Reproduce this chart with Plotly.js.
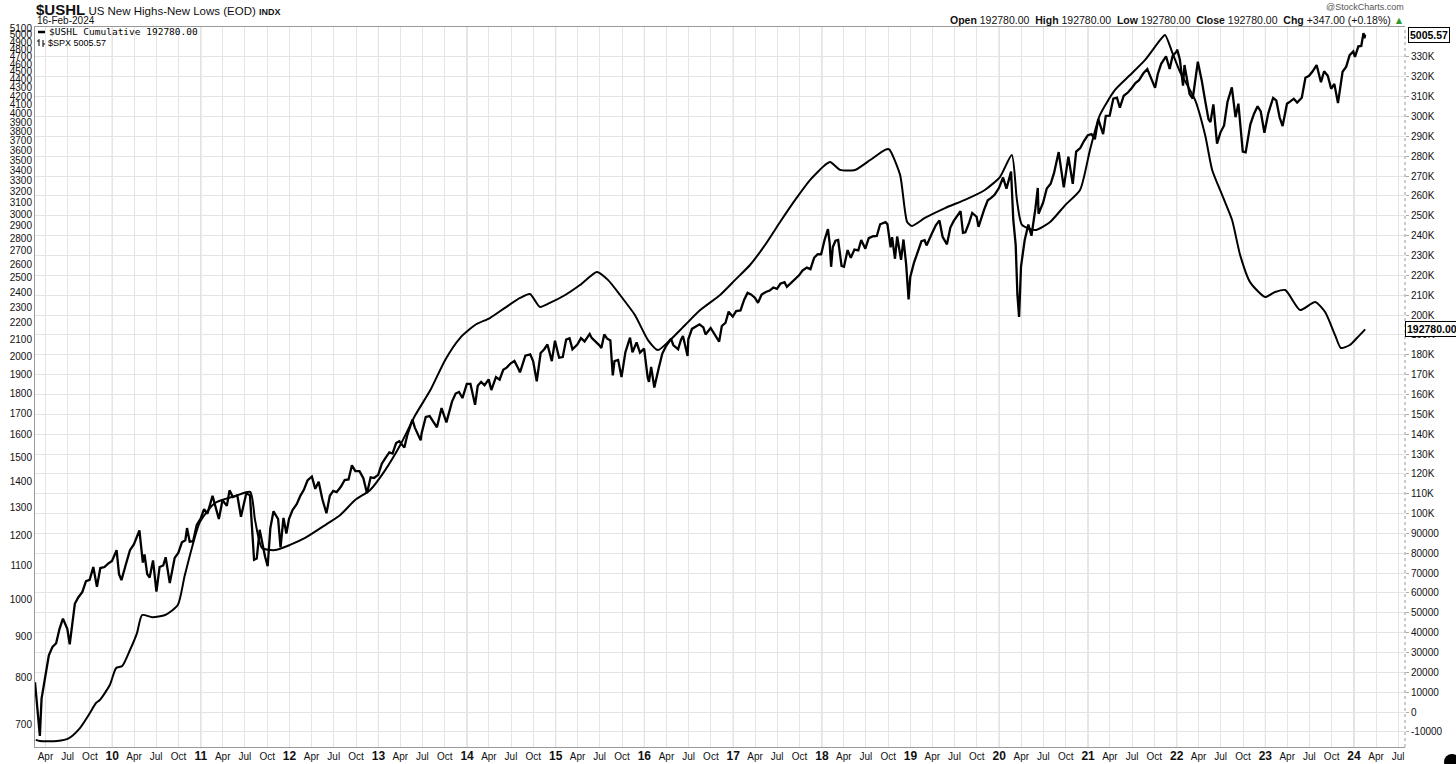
<!DOCTYPE html>
<html>
<head>
<meta charset="utf-8">
<script src="https://cdn.plot.ly/plotly-3.0.1.min.js"></script>
<style>html,body{margin:0;padding:0;background:#fff;}#chart{width:1456px;height:764px;}</style>
</head>
<body>
<div id="chart"></div>
<script>
// ---------- DATA ----------
const spxDates = ['2009-02-17','2009-02-27','2009-03-09','2009-03-16','2009-03-31','2009-04-15','2009-04-30','2009-05-15','2009-05-29','2009-06-12','2009-06-30','2009-07-10','2009-07-31','2009-08-14','2009-08-31','2009-09-15','2009-09-30','2009-10-15','2009-10-30','2009-11-13','2009-11-30','2009-12-15','2009-12-31',
'2010-01-19','2010-01-29','2010-02-08','2010-02-26','2010-03-15','2010-03-31','2010-04-23','2010-05-07','2010-05-14','2010-05-25','2010-06-04','2010-06-18','2010-07-02','2010-07-15','2010-07-30','2010-08-09','2010-08-26','2010-09-15','2010-09-30','2010-10-15','2010-10-29','2010-11-05','2010-11-16','2010-11-30','2010-12-15','2010-12-31',
'2011-01-14','2011-01-28','2011-02-18','2011-03-16','2011-03-31','2011-04-18','2011-04-29','2011-05-13','2011-05-31','2011-06-15','2011-06-30','2011-07-07','2011-07-22','2011-08-08','2011-08-19','2011-08-31','2011-09-22','2011-10-03','2011-10-14','2011-10-27','2011-11-15','2011-11-25','2011-12-07','2011-12-19','2011-12-30',
'2012-01-13','2012-01-31','2012-02-15','2012-02-29','2012-03-15','2012-04-02','2012-04-16','2012-04-30','2012-05-15','2012-06-01','2012-06-15','2012-06-29','2012-07-13','2012-07-31','2012-08-15','2012-08-31','2012-09-14','2012-09-28','2012-10-15','2012-10-31','2012-11-15','2012-11-30','2012-12-14','2012-12-31',
'2013-01-15','2013-01-31','2013-02-15','2013-02-28','2013-03-15','2013-03-28','2013-04-18','2013-04-30','2013-05-21','2013-05-31','2013-06-24','2013-06-28','2013-07-15','2013-07-31','2013-08-15','2013-08-30','2013-09-18','2013-09-30','2013-10-08','2013-10-31','2013-11-15','2013-11-29','2013-12-13','2013-12-31',
'2014-01-15','2014-02-03','2014-02-14','2014-02-28','2014-03-14','2014-03-31','2014-04-11','2014-04-30','2014-05-15','2014-05-30','2014-06-13','2014-06-30','2014-07-15','2014-07-31','2014-08-07','2014-08-29','2014-09-18','2014-09-30','2014-10-15','2014-10-31','2014-11-14','2014-11-28','2014-12-16','2014-12-29',
'2015-01-15','2015-01-30','2015-02-13','2015-02-27','2015-03-11','2015-03-31','2015-04-15','2015-04-30','2015-05-21','2015-05-29','2015-06-15','2015-06-30','2015-07-08','2015-07-20','2015-07-31','2015-08-14','2015-08-24','2015-08-31','2015-09-15','2015-09-29','2015-10-15','2015-11-03','2015-11-13','2015-11-30','2015-12-14','2015-12-31',
'2016-01-15','2016-01-20','2016-01-29','2016-02-11','2016-02-29','2016-03-15','2016-03-31','2016-04-20','2016-04-29','2016-05-19','2016-05-31','2016-06-08','2016-06-27','2016-06-30','2016-07-15','2016-07-29','2016-08-15','2016-08-31','2016-09-09','2016-09-30','2016-10-14','2016-11-04','2016-11-15','2016-11-30','2016-12-13','2016-12-30',
'2017-01-13','2017-01-31','2017-02-15','2017-03-01','2017-03-15','2017-03-31','2017-04-13','2017-04-28','2017-05-15','2017-05-31','2017-06-15','2017-06-30','2017-07-14','2017-07-31','2017-08-10','2017-08-31','2017-09-15','2017-09-29','2017-10-13','2017-10-31','2017-11-15','2017-11-30','2017-12-15','2017-12-29',
'2018-01-12','2018-01-26','2018-02-02','2018-02-08','2018-02-15','2018-02-26','2018-03-09','2018-03-23','2018-04-02','2018-04-17','2018-04-30','2018-05-15','2018-05-31','2018-06-12','2018-06-29','2018-07-13','2018-07-31','2018-08-15','2018-08-29','2018-09-20','2018-09-28','2018-10-11','2018-10-17','2018-10-29','2018-11-07','2018-11-23','2018-12-03','2018-12-14','2018-12-24','2018-12-31',
'2019-01-15','2019-01-31','2019-02-15','2019-02-28','2019-03-08','2019-03-29','2019-04-15','2019-04-30','2019-05-13','2019-05-31','2019-06-14','2019-06-28','2019-07-26','2019-08-05','2019-08-15','2019-08-30','2019-09-12','2019-09-30','2019-10-08','2019-10-31','2019-11-15','2019-11-29','2019-12-13','2019-12-31',
'2020-01-17','2020-01-31','2020-02-19','2020-02-28','2020-03-09','2020-03-16','2020-03-23','2020-03-31','2020-04-15','2020-04-30','2020-05-13','2020-05-29','2020-06-08','2020-06-11','2020-06-30','2020-07-15','2020-07-31','2020-08-14','2020-09-02','2020-09-23','2020-09-30','2020-10-12','2020-10-30','2020-11-13','2020-11-30','2020-12-15','2020-12-31',
'2021-01-15','2021-01-29','2021-02-12','2021-03-04','2021-03-15','2021-03-31','2021-04-15','2021-04-30','2021-05-12','2021-05-28','2021-06-15','2021-06-30','2021-07-15','2021-07-30','2021-08-16','2021-09-02','2021-09-30','2021-10-04','2021-10-15','2021-10-29','2021-11-18','2021-11-30','2021-12-03','2021-12-15','2021-12-31',
'2022-01-03','2022-01-14','2022-01-27','2022-02-02','2022-02-23','2022-03-08','2022-03-29','2022-04-14','2022-04-29','2022-05-12','2022-05-20','2022-06-01','2022-06-16','2022-06-30','2022-07-15','2022-07-29','2022-08-16','2022-08-31','2022-09-12','2022-09-30','2022-10-12','2022-10-31','2022-11-15','2022-11-30','2022-12-13','2022-12-28',
'2023-01-13','2023-02-02','2023-02-15','2023-03-01','2023-03-13','2023-03-31','2023-04-14','2023-04-28','2023-05-12','2023-05-31','2023-06-15','2023-06-30','2023-07-14','2023-07-31','2023-08-18','2023-08-31','2023-09-15','2023-09-29','2023-10-12','2023-10-27','2023-11-15','2023-11-30','2023-12-14','2023-12-29',
'2024-01-05','2024-01-19','2024-01-31','2024-02-09','2024-02-13','2024-02-16'];
const spxValues = [789,735,677,753,798,852,873,882,919,946,919,879,987,1005,1021,1053,1057,1096,1036,1093,1096,1107,1115,
1150,1074,1056,1104,1150,1169,1217,1110,1136,1074,1064,1117,1022,1096,1101,1127,1047,1125,1141,1176,1183,1225,1178,1180,1236,1258,
1293,1276,1343,1257,1326,1305,1364,1338,1345,1265,1321,1353,1345,1119,1123,1219,1130,1099,1225,1285,1257,1159,1261,1206,1258,
1289,1312,1344,1366,1403,1419,1370,1398,1331,1278,1343,1362,1357,1379,1405,1407,1465,1441,1441,1412,1353,1416,1413,1426,
1472,1498,1520,1515,1561,1569,1541,1597,1669,1631,1573,1606,1682,1686,1661,1633,1725,1682,1656,1757,1798,1806,1775,1848,
1848,1741,1838,1859,1841,1872,1816,1884,1870,1924,1936,1960,1973,1931,1910,2003,2011,1972,1862,2018,2039,2068,1972,2090,
1992,1995,2097,2105,2040,2068,2106,2086,2131,2107,2084,2063,2047,2128,2104,2092,1893,1972,1979,1884,2023,2109,2023,2080,2021,2044,
1880,1859,1940,1829,1932,2015,2060,2102,2065,2040,2097,2119,2001,2099,2162,2174,2190,2171,2128,2168,2133,2085,2180,2199,2271,2239,
2275,2279,2350,2396,2385,2363,2329,2384,2402,2412,2433,2423,2459,2470,2438,2472,2500,2519,2553,2575,2564,2648,2676,2674,
2786,2873,2762,2581,2731,2780,2786,2588,2582,2707,2648,2711,2705,2786,2718,2801,2816,2818,2914,2931,2914,2728,2809,2641,2814,2633,2790,2599,2351,2507,
2610,2704,2776,2784,2743,2834,2905,2946,2812,2752,2887,2942,3026,2844,2848,2926,3009,2977,2893,3038,3120,3141,3169,3231,
3330,3226,3386,2954,2747,2386,2237,2585,2784,2912,2820,3044,3232,3002,3100,3227,3271,3373,3580,3237,3363,3534,3270,3585,3622,3695,3756,
3768,3714,3934,3768,3969,3973,4170,4181,4063,4204,4246,4298,4360,4395,4479,4537,4308,4300,4471,4605,4705,4567,4538,4709,4766,
4797,4662,4326,4589,4225,4170,4632,4392,4132,3930,3901,4101,3667,3785,3863,4130,4305,3955,4110,3586,3577,3872,3992,4080,4020,3783,
3999,4179,4148,3951,3855,4109,4138,4169,4124,4180,4426,4450,4505,4589,4370,4508,4450,4288,4349,4117,4502,4568,4720,4770,
4697,4840,4846,5027,4953,5005.57];

const ushlDates = ['2009-02-20','2009-03-09','2009-05-19','2009-07-07','2009-08-21','2009-10-01','2009-10-26','2009-11-11','2009-12-22',
'2010-01-17','2010-02-11','2010-03-15','2010-04-13','2010-05-04','2010-06-15','2010-08-07','2010-09-28','2010-10-27','2010-12-28',
'2011-02-28','2011-05-22','2011-07-23','2011-08-12','2011-09-10','2011-11-02',
'2012-01-03','2012-03-05','2012-05-27','2012-07-28','2012-09-27','2012-11-28',
'2013-01-29','2013-04-01','2013-06-02','2013-08-03','2013-10-03','2013-12-03',
'2014-02-03','2014-04-05','2014-06-06','2014-08-07','2014-09-17','2014-10-28','2014-12-08',
'2015-02-09','2015-04-11','2015-06-20','2015-08-04','2015-09-23','2015-11-23',
'2016-01-16','2016-02-26','2016-04-16','2016-06-17','2016-08-18','2016-11-08',
'2017-01-09','2017-03-11','2017-05-12','2017-07-13','2017-09-13','2017-11-13',
'2018-01-14','2018-02-04','2018-03-17','2018-05-18','2018-07-19','2018-09-18','2018-10-05','2018-11-19','2018-12-18',
'2019-01-07','2019-03-01','2019-05-23','2019-08-13','2019-11-03',
'2020-01-04','2020-02-22','2020-03-14','2020-04-04','2020-05-28','2020-07-29','2020-09-29','2020-11-29',
'2021-01-09','2021-02-19','2021-04-22','2021-06-23','2021-08-24','2021-10-25','2021-11-14','2021-12-13',
'2022-01-15','2022-03-18','2022-04-28','2022-05-27','2022-07-07','2022-08-17','2022-09-19','2022-10-30','2022-12-31',
'2023-02-10','2023-03-24','2023-05-24','2023-07-25','2023-09-04','2023-10-15','2023-11-08','2023-12-15',
'2024-01-13','2024-02-16'];
const ushlValues = [-14000,-14600,-14600,-13100,-8050,-490,4550,6060,13600,
22200,23200,31250,39800,48900,47800,48900,53900,69000,95700,
105300,108800,110900,96700,82600,81600,
84200,87700,94200,99300,106800,111900,
121900,134500,149600,162200,177400,188400,
195000,198500,203600,208600,210600,204100,206100,
210100,215100,221700,217700,210100,200000,
187400,182400,187400,195000,202500,210100,
217700,225200,235300,246900,258000,268000,
275600,277100,273100,273100,278100,283200,283500,270600,246900,
244900,248900,253900,258000,263000,
269500,280600,258000,245400,242800,246900,255400,263000,
283200,300800,313400,320900,328500,338600,341100,332500,
322400,308300,290700,273100,260500,247900,230300,216600,209100,
211600,212600,202500,206600,201500,189900,183400,184900,
188400,192780];

const ushlChange = 347.00;
const ushlChangePct = 0.18;
const dateLabel = '16-Feb-2024';

const tickYears = [2009,2010,2011,2012,2013,2014,2015,2016,2017,2018,2019,2020,2021,2022,2023,2024];
const quarterMonths = ['01','04','07','10'];
const quarterNames = ['', 'Apr', 'Jul', 'Oct'];
const leftTicks = [700,800,900,1000,1100,1200,1300,1400,1500,1600,1700,1800,1900,2000,2100,2200,2300,2400,2500,2600,2700,2800,2900,3000,3100,3200,3300,3400,3500,3600,3700,3800,3900,4000,4100,4200,4300,4400,4500,4600,4700,4800,4900,5000,5100];
const rightTicks = [-10000,0,10000,20000,30000,40000,50000,60000,70000,80000,90000,100000,110000,120000,130000,140000,150000,160000,170000,180000,190000,200000,210000,220000,230000,240000,250000,260000,270000,280000,290000,300000,310000,320000,330000];

// ---------- BUILD ----------
const xTickVals = [], xTickText = [];
tickYears.forEach(y => {
  quarterMonths.forEach((m, i) => {
    const d = y + '-' + m + '-01';
    if (d < '2009-02-17' || d > '2024-07-29') return;
    xTickVals.push(d);
    xTickText.push(i === 0 ? '<span style="font-size:12px;font-weight:bold">' + String(y).slice(2) + '</span>' : quarterNames[i]);
  });
});
const rightText = rightTicks.map(v => Math.abs(v) >= 100000 ? (v / 1000) + 'K' : String(v));

const lastSpx = spxValues[spxValues.length - 1];
const lastUshl = ushlValues[ushlValues.length - 1];
const fmt2 = v => v.toFixed(2);

const PL = 35, PR = 1405, PT = 27, PB = 747;
const px = x => (x - PL) / (PR - PL);
const py = y => (PB - y) / (PB - PT);

const FONT = 'Liberation Sans, Arial, sans-serif';

const traces = [
  {x: spxDates, y: spxValues, type: 'scatter', mode: 'lines', yaxis: 'y',
   line: {color: '#000', width: 2.3}, name: '$SPX', hoverinfo: 'skip'},
  {x: ushlDates, y: ushlValues, type: 'scatter', mode: 'lines', yaxis: 'y2',
   line: {color: '#000', width: 2, shape: 'spline', smoothing: 0.6}, name: '$USHL Cumulative', hoverinfo: 'skip'}
];

const shapes = tickYears.filter(y => y >= 2010).map(y => ({
  type: 'line', xref: 'x', yref: 'paper', x0: y + '-01-01', x1: y + '-01-01', y0: 0, y1: 1,
  line: {color: '#c9c9c9', width: 1}, layer: 'below'
}));
// dotted right axis line
shapes.push({type: 'line', xref: 'paper', yref: 'paper', x0: 1, x1: 1, y0: 0, y1: 1, line: {color: '#999', width: 1, dash: 'dot'}});
// legend swatch for USHL line
shapes.push({type: 'line', xref: 'paper', yref: 'paper', x0: px(38), x1: px(45), y0: py(32), y1: py(32), line: {color: '#000', width: 2.5}});
// legend icon for SPX bars
shapes.push({type: 'line', xref: 'paper', yref: 'paper', x0: px(39), x1: px(39), y0: py(46), y1: py(39), line: {color: '#000', width: 1}});
shapes.push({type: 'line', xref: 'paper', yref: 'paper', x0: px(43), x1: px(43), y0: py(47), y1: py(40), line: {color: '#000', width: 1}});
shapes.push({type: 'line', xref: 'paper', yref: 'paper', x0: px(37), x1: px(39), y0: py(41), y1: py(41), line: {color: '#000', width: 1}});
shapes.push({type: 'line', xref: 'paper', yref: 'paper', x0: px(43), x1: px(45), y0: py(44), y1: py(44), line: {color: '#000', width: 1}});
// corner dot
shapes.push({type: 'circle', xref: 'paper', yref: 'paper', x0: px(1444), x1: px(1460), y0: py(754), y1: py(770), fillcolor: '#000', line: {width: 0}});

const annotations = [
  {xref: 'paper', yref: 'paper', x: px(34), y: py(9), xanchor: 'left', yanchor: 'middle', showarrow: false,
   text: '<span style="font-size:15px;font-weight:bold">$USHL</span> US New Highs-New Lows (EOD) <span style="font-size:9px;font-weight:bold">INDX</span>',
   font: {family: FONT, size: 11.5, color: '#111'}},
  {xref: 'paper', yref: 'paper', x: px(35), y: py(20), xanchor: 'left', yanchor: 'middle', showarrow: false,
   text: dateLabel, font: {family: FONT, size: 10, color: '#111'}},
  {xref: 'paper', yref: 'paper', x: px(1406), y: py(7), xanchor: 'right', yanchor: 'middle', showarrow: false,
   text: '@StockCharts.com', font: {family: FONT, size: 9, color: '#555'}},
  {xref: 'paper', yref: 'paper', x: px(1406), y: py(20), xanchor: 'right', yanchor: 'middle', showarrow: false,
   text: '<b>Open</b> ' + fmt2(lastUshl) + '  <b>High</b> ' + fmt2(lastUshl) + '  <b>Low</b> ' + fmt2(lastUshl) +
         '  <b>Close</b> ' + fmt2(lastUshl) + '  <b>Chg</b> +' + fmt2(ushlChange) + ' (+' + fmt2(ushlChangePct) + '%) <span style="color:#2e9b2e">▲</span>',
   font: {family: FONT, size: 10.5, color: '#111'}},
  {xref: 'paper', yref: 'paper', x: px(47), y: py(32), xanchor: 'left', yanchor: 'middle', showarrow: false,
   text: '$USHL Cumulative ' + fmt2(lastUshl), font: {family: 'DejaVu Sans Mono, monospace', size: 9.5, color: '#000'}},
  {xref: 'paper', yref: 'paper', x: px(46), y: py(43), xanchor: 'left', yanchor: 'middle', showarrow: false,
   text: '$SPX ' + fmt2(lastSpx), font: {family: FONT, size: 9, color: '#000'}},
  {xref: 'paper', yref: 'y', x: px(1408), y: Math.log10(lastSpx), xanchor: 'left', yanchor: 'middle', showarrow: false,
   text: '<b>' + fmt2(lastSpx) + '</b>', font: {family: FONT, size: 10.5, color: '#000'},
   bgcolor: '#fff', bordercolor: '#000', borderwidth: 1, borderpad: 1},
  {xref: 'paper', yref: 'y2', x: px(1405), y: lastUshl, xanchor: 'left', yanchor: 'middle', showarrow: false,
   text: '<b>' + fmt2(lastUshl) + '</b>', font: {family: FONT, size: 10.5, color: '#000'},
   bgcolor: '#fff', bordercolor: '#000', borderwidth: 1, borderpad: 1}
];

const layout = {
  width: 1456, height: 764,
  margin: {l: PL, r: 1456 - PR, t: PT, b: 764 - PB, pad: 0},
  paper_bgcolor: '#fff', plot_bgcolor: '#fff',
  showlegend: false,
  font: {family: FONT, size: 10, color: '#111'},
  xaxis: {
    type: 'date', range: ['2009-02-17', '2024-07-29'],
    tickmode: 'array', tickvals: xTickVals, ticktext: xTickText,
    tickfont: {family: FONT, size: 10, color: '#111'},
    showgrid: true, gridcolor: '#e4e4e4', gridwidth: 1,
    showline: true, linecolor: '#9a9a9a', linewidth: 1, mirror: true,
    ticks: '', zeroline: false, fixedrange: true
  },
  yaxis: {
    type: 'log', range: [Math.log10(656), Math.log10(5115)],
    tickmode: 'array', tickvals: leftTicks, ticktext: leftTicks.map(String),
    tickfont: {family: FONT, size: 10, color: '#111'},
    showgrid: false, showline: true, linecolor: '#9a9a9a', linewidth: 1,
    ticks: '', zeroline: false, fixedrange: true
  },
  yaxis2: {
    overlaying: 'y', side: 'right', range: [-17600, 345100],
    tickmode: 'array', tickvals: rightTicks, ticktext: rightText,
    tickfont: {family: FONT, size: 10, color: '#111'},
    showgrid: true, gridcolor: '#e4e4e4', gridwidth: 1,
    showline: false, ticks: 'outside', ticklen: 3, tickcolor: '#aaa',
    zeroline: false, fixedrange: true
  },
  shapes: shapes,
  annotations: annotations
};

Plotly.newPlot('chart', traces, layout, {displayModeBar: false, staticPlot: true});
</script>
</body>
</html>
